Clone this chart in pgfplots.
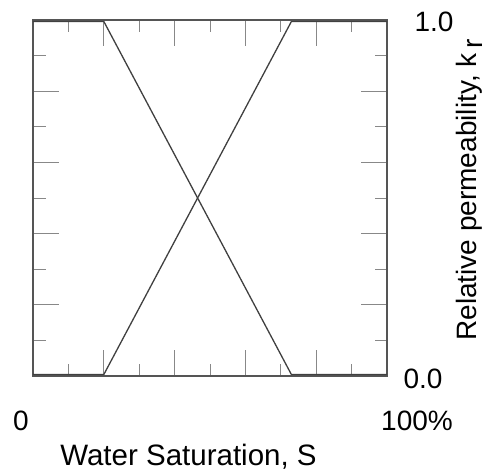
\documentclass[border=0pt]{standalone}
\usepackage{pgfplots}
\pgfplotsset{compat=1.18}
\usepackage{fontspec}
\setmainfont{Liberation Sans}
\definecolor{linec}{HTML}{404040}
\definecolor{framec}{HTML}{555555}
\begin{document}
\begin{tikzpicture}
\fontsize{28bp}{34bp}\selectfont
\begin{axis}[
  scale only axis, width=354bp, height=356bp,
  xmin=0, xmax=1, ymin=0, ymax=1,
  xtick={0.2,0.4,0.6,0.8}, minor xtick={0.1,0.3,0.5,0.7,0.9},
  ytick={0.2,0.4,0.6,0.8}, minor ytick={0.1,0.3,0.5,0.7,0.9},
  xticklabels={}, yticklabels={},
  tick align=inside, major tick length=26bp, minor tick length=12.5bp,
  every tick/.style={framec!70, line width=0.9bp},
  axis line style={framec, line width=1.1bp},
  clip=false,
]
% relative permeability curves
\addplot[linec, line width=1.3bp] coordinates {(0,0.996) (0.2,0.996) (0.73,0.004) (1,0.004)};
\addplot[linec, line width=1.3bp] coordinates {(0,0.004) (0.2,0.004) (0.73,0.996) (1,0.996)};
\coordinate (sw) at (rel axis cs:0,0);
\coordinate (ne) at (rel axis cs:1,1);
\node[anchor=base] at ([xshift=-12bp,yshift=-54bp]rel axis cs:0,0) {0};
\node[anchor=base] at ([xshift=30bp,yshift=-54bp]rel axis cs:1,0) {100\%};
\node[anchor=base, font=\fontsize{29.5bp}{34bp}\selectfont] at ([xshift=155.5bp,yshift=-89bp]rel axis cs:0,0) {Water Saturation, S};
\node[anchor=base] at ([xshift=47bp,yshift=-12bp]rel axis cs:1,1) {1.0};
\node[anchor=base] at ([xshift=36bp,yshift=-12bp]rel axis cs:1,0) {0.0};
\node[anchor=base, rotate=90] at ([xshift=89bp,yshift=-170bp]rel axis cs:1,1)
  {Relative permeability, k\,\raisebox{-6bp}{r}};
\end{axis}
\pgfresetboundingbox
\path ([xshift=-33bp,yshift=-97bp]sw) rectangle ([xshift=109bp,yshift=20bp]ne);
\end{tikzpicture}
\end{document}
